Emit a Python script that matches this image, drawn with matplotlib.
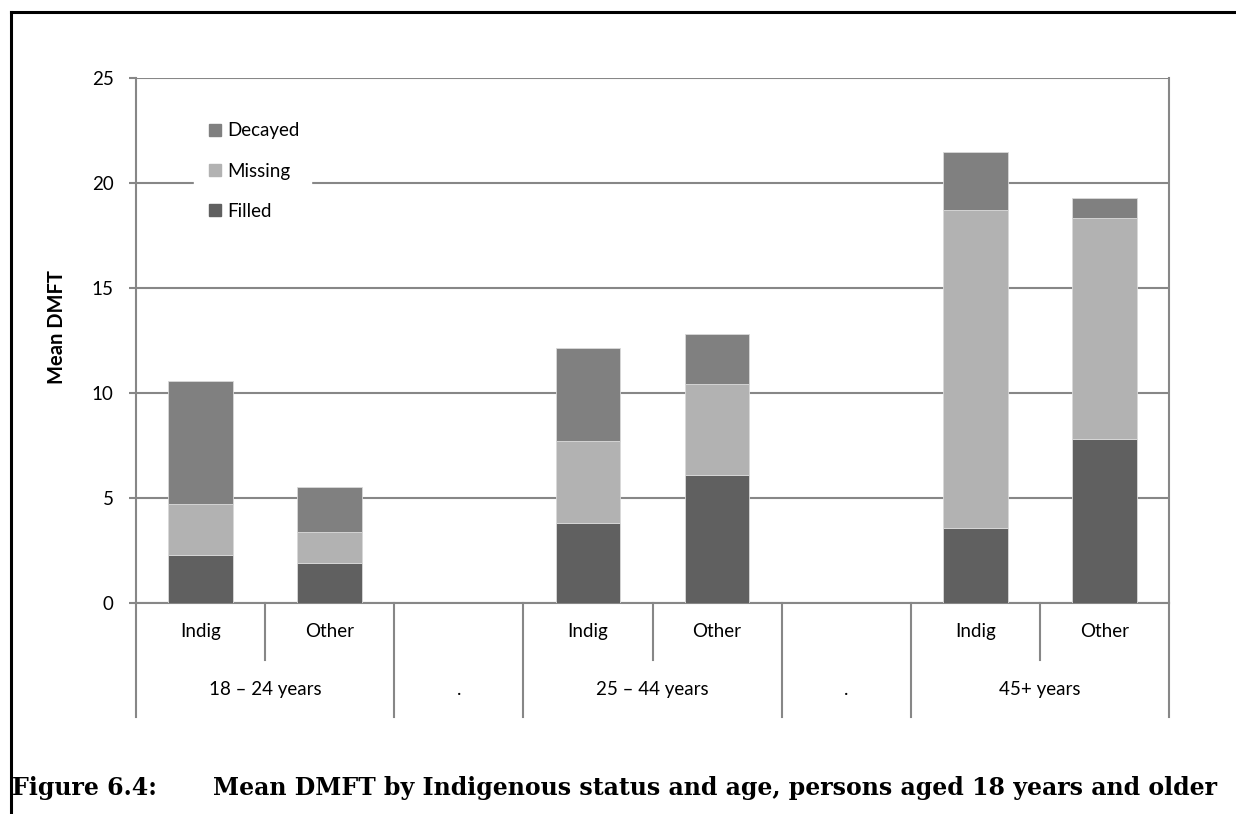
import numpy as np
import matplotlib.pyplot as plt
from matplotlib.lines import Line2D

# datos
estado = ["Indig", "Other", "", "Indig", "Other", "", "Indig", "Other"]
grupos = ["18 – 24 years", ".", "25 – 44 years", ".", "45+ years"]
filled = [2.29, 1.92, np.nan, 3.82, 6.11, np.nan, 3.57, 7.82]
missing = [2.41, 1.46, np.nan, 3.89, 4.32, np.nan, 15.13, 10.53]
decayed = [5.87, 2.13, np.nan, 4.42, 2.40, np.nan, 2.78, 0.95]

c_filled = "#606060"
c_missing = "#b2b2b2"
c_decayed = "#808080"
c_grid = "#878787"
fuente = "Lato"
tam = 13.5

fig = plt.figure(figsize=(12.36, 8.14), dpi=100)
ax = fig.add_axes([136/1236, 1-603/814, 1033/1236, 525/814])

x = np.arange(len(estado))
f = np.nan_to_num(filled)
m = np.nan_to_num(missing)
d = np.nan_to_num(decayed)
ax.bar(x, f, width=0.5, color=c_filled, edgecolor="#d9d9d9", linewidth=0.6, zorder=3)
ax.bar(x, m, width=0.5, bottom=f, color=c_missing, edgecolor="#d9d9d9", linewidth=0.6, zorder=3)
ax.bar(x, d, width=0.5, bottom=f+m, color=c_decayed, edgecolor="#d9d9d9", linewidth=0.6, zorder=3)

ax.set_xlim(-0.5, len(estado)-0.5)
ax.set_ylim(0, 25)
ax.set_yticks(range(0, 26, 5))
ax.yaxis.grid(True, color=c_grid, linewidth=1.5)
ax.set_axisbelow(True)
ax.tick_params(axis="y", direction="out", length=5, width=1.5, color=c_grid, pad=11, labelsize=tam)
ax.set_xticks([])
for lab in ax.get_yticklabels():
    lab.set_fontfamily(fuente)
for s in ["left", "right", "bottom"]:
    ax.spines[s].set_color(c_grid)
    ax.spines[s].set_linewidth(1.5)
ax.spines["top"].set_visible(False)

ax.set_ylabel("Mean DMFT", fontfamily=fuente, fontweight="bold", fontsize=14.5)
ax.yaxis.set_label_coords(-0.067, 0.526)

# eje de categorias en dos niveles
trans = ax.get_xaxis_transform()
largo = -0.217
corto = -0.1086
for xs in [-0.5, 1.5, 2.5, 4.5, 5.5, 7.5]:
    ax.plot([xs, xs], [0, largo], color=c_grid, lw=1.5, transform=trans, clip_on=False)
for xs in [0.5, 3.5, 6.5]:
    ax.plot([xs, xs], [0, corto], color=c_grid, lw=1.5, transform=trans, clip_on=False)
for i, e in enumerate(estado):
    if e:
        ax.text(i, -0.0552, e, transform=trans, ha="center", va="center", fontfamily=fuente, fontsize=tam)
pos_grupos = [0.5, 2, 3.5, 5, 6.5]
for p, g in zip(pos_grupos, grupos):
    ax.text(p, -0.1657, g, transform=trans, ha="center", va="center", fontfamily=fuente, fontsize=tam)

# leyenda
h = [Line2D([], [], marker="s", ls="None", color=c, markersize=9) for c in [c_decayed, c_missing, c_filled]]
leg = ax.legend(h, ["Decayed", "Missing", "Filled"], loc="upper left", bbox_to_anchor=(0.047, 0.955),
                frameon=True, fancybox=False, edgecolor="white", framealpha=1,
                labelspacing=1.24, handletextpad=0.2, handlelength=1.0, borderpad=0.6,
                prop={"family": fuente, "size": tam})

# marco y titulo
fig.add_artist(Line2D([11/1236, 11/1236], [0, 1-12/814], color="black", lw=2.2))
fig.add_artist(Line2D([11/1236, 1], [1-12/814, 1-12/814], color="black", lw=2.2))
fig.text(12/1236, 1-795/814, "Figure 6.4:", fontfamily="DejaVu Serif", fontweight="bold", fontsize=17, va="baseline")
fig.text(213/1236, 1-795/814, "Mean DMFT by Indigenous status and age, persons aged 18 years and older",
         fontfamily="DejaVu Serif", fontweight="bold", fontsize=17, va="baseline")

fig.savefig("out.png", dpi=100)
